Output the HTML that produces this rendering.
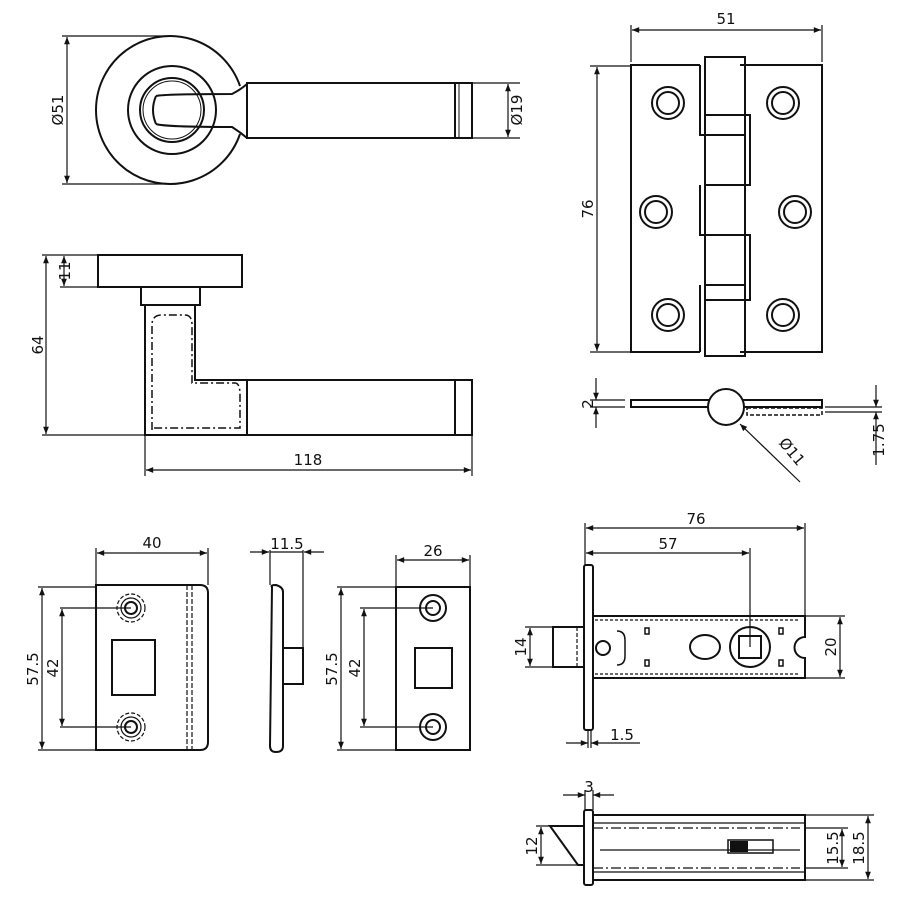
<!DOCTYPE html>
<html><head><style>
html,body{margin:0;padding:0;background:#fff;}
svg{display:block}
text{font-family:"DejaVu Sans","Liberation Sans",sans-serif;font-size:15px;fill:#111;}
</style></head><body>
<svg width="900" height="900" viewBox="0 0 900 900" xmlns="http://www.w3.org/2000/svg">
<defs>
<marker id="a" viewBox="0 0 10 10" refX="10" refY="5" markerWidth="9" markerHeight="6" orient="auto-start-reverse"><path d="M0,1 L10,5 L0,9 z" fill="#111"/></marker>
</defs>
<g stroke="#111" fill="none" stroke-width="2">
<!-- Handle top view -->
<path d="M240,86 A74,74 0 1 0 240,134" />
<circle cx="172" cy="110" r="44"/>
<circle cx="172" cy="110" r="32"/>
<circle cx="172" cy="110" r="29" stroke-width="1"/>
<path d="M156,96 Q165,94 232,94 Q240,90 247,84 M156,124 Q165,127 232,127 Q240,132 247,138"/>
<path d="M156,96 Q150,110 156,124"/>
<rect x="247" y="83" width="208" height="55"/>
<rect x="455" y="83" width="17" height="55"/>
<line x1="459" y1="83" x2="459" y2="138" stroke-width="1"/>
<!-- Handle side view -->
<rect x="98" y="255" width="144" height="32"/>
<rect x="141" y="287" width="59" height="18"/>
<path d="M145,305 V435 H247 M195,305 V380 H247"/>
<path d="M152,430 V325 Q152,315 162,315 H185 Q192,315 192,325 V383 H235 Q240,383 240,395 V428 H152" stroke-dasharray="8,3,2,3" stroke-width="1.5"/>
<rect x="247" y="380" width="208" height="55"/>
<rect x="455" y="380" width="17" height="55"/>
<!-- Hinge -->
<path d="M700,65 H631 V352 H700"/>
<path d="M740,65 H822 V352 H740"/>
<rect x="705" y="57" width="40" height="299"/>
<path d="M700,65 V135 H705 M700,185 V235 H705 M700,285 V352 M745,115 H750 V185 H745 M745,235 H750 V300 H745"/>
<line x1="705" y1="115" x2="745" y2="115"/><line x1="705" y1="135" x2="745" y2="135"/>
<line x1="705" y1="185" x2="745" y2="185"/><line x1="705" y1="235" x2="745" y2="235"/>
<line x1="705" y1="285" x2="745" y2="285"/><line x1="705" y1="300" x2="745" y2="300"/>
<g>
<circle cx="668" cy="103" r="16"/><circle cx="668" cy="103" r="11"/>
<circle cx="656" cy="212" r="16"/><circle cx="656" cy="212" r="11"/>
<circle cx="668" cy="315" r="16"/><circle cx="668" cy="315" r="11"/>
<circle cx="783" cy="103" r="16"/><circle cx="783" cy="103" r="11"/>
<circle cx="795" cy="212" r="16"/><circle cx="795" cy="212" r="11"/>
<circle cx="783" cy="315" r="16"/><circle cx="783" cy="315" r="11"/>
</g>
<!-- hinge side -->
<rect x="631" y="400" width="78" height="7"/>
<rect x="743" y="400" width="79" height="7"/>
<rect x="747" y="408" width="75" height="7" stroke-dasharray="4,2" stroke-width="1.5"/>
<circle cx="726" cy="407" r="18" fill="#fff"/>
<!-- strike plate 1 -->
<path d="M96,585 H200 Q208,585 208,593 V742 Q208,750 200,750 H96 Z"/>
<rect x="112" y="640" width="43" height="55"/>
<path d="M187,585 V750 M192,585 V750" stroke-dasharray="5,2" stroke-width="1.2"/>
<circle cx="131" cy="608" r="6"/><circle cx="131" cy="608" r="10" stroke-width="1.2"/><circle cx="131" cy="608" r="14" stroke-dasharray="4,2" stroke-width="1.2"/>
<circle cx="131" cy="727" r="6"/><circle cx="131" cy="727" r="10" stroke-width="1.2"/><circle cx="131" cy="727" r="14" stroke-dasharray="4,2" stroke-width="1.2"/>
<!-- strike side -->
<path d="M272,587 Q270,585 276,585 Q283,587 283,592 V746 Q283,752 276,752 Q270,752 270,746 Z"/>
<rect x="283" y="648" width="20" height="36"/>
<!-- strike plate 2 -->
<rect x="396" y="587" width="74" height="163"/>
<rect x="415" y="648" width="37" height="40"/>
<circle cx="433" cy="608" r="7"/><circle cx="433" cy="608" r="13"/>
<circle cx="433" cy="727" r="7"/><circle cx="433" cy="727" r="13"/>
<!-- latch front -->
<rect x="584" y="565" width="9" height="165" rx="2"/>
<rect x="553" y="627" width="31" height="40"/>
<line x1="577" y1="627" x2="577" y2="667" stroke-dasharray="4,2" stroke-width="1.2"/>
<path d="M593,616 H805 V637 A10,10 0 0 0 805,658 V678 H593"/>
<path d="M595,620 H800 M595,674 H800" stroke-dasharray="3,2" stroke-width="1.2"/>
<circle cx="750" cy="647" r="20"/><rect x="739" y="636" width="22" height="22"/>
<ellipse cx="705" cy="647" rx="15" ry="12"/>
<circle cx="603" cy="648" r="7"/>
<path d="M617,631 Q625,631 625,640 V656 Q625,665 617,665" stroke-width="1.5"/>
<rect x="645" y="628" width="4" height="6" stroke-width="1.5"/><rect x="645" y="660" width="4" height="6" stroke-width="1.5"/>
<rect x="779" y="628" width="4" height="6" stroke-width="1.5"/><rect x="779" y="660" width="4" height="6" stroke-width="1.5"/>
<!-- latch bottom -->
<rect x="584" y="810" width="9" height="75" rx="2"/>
<path d="M550,826 H584 V865 H578 Z"/>
<rect x="593" y="815" width="212" height="65"/>
<line x1="593" y1="823" x2="805" y2="823" stroke-width="1.2"/>
<line x1="593" y1="872" x2="805" y2="872" stroke-width="1.2"/>
<path d="M593,828 H800 M593,868 H800" stroke-dasharray="10,3,2,3" stroke-width="1.2"/>
<path d="M600,850 H740 V844 H745 V850 H800" stroke-width="1.2"/>
<rect x="728" y="840" width="45" height="13" stroke-width="1.5"/>
<rect x="731" y="842" width="16" height="9" fill="#111"/>
</g>
<!-- dimension lines -->
<g stroke="#111" stroke-width="1.2" fill="none">
<path d="M62,36 H172 M62,184 H172"/>
<line x1="67" y1="37" x2="67" y2="183" marker-start="url(#a)" marker-end="url(#a)"/>
<path d="M472,83 H520 M472,138 H520"/>
<line x1="508" y1="84" x2="508" y2="137" marker-start="url(#a)" marker-end="url(#a)"/>
<path d="M42,255 H98 M60,287 H98 M42,435 H145"/>
<line x1="46" y1="256" x2="46" y2="434" marker-start="url(#a)" marker-end="url(#a)"/>
<line x1="64" y1="256" x2="64" y2="286" marker-start="url(#a)" marker-end="url(#a)"/>
<path d="M145,436 V476 M472,436 V476"/>
<line x1="146" y1="470" x2="471" y2="470" marker-start="url(#a)" marker-end="url(#a)"/>
<path d="M631,25 V62 M822,25 V62"/>
<line x1="632" y1="30" x2="821" y2="30" marker-start="url(#a)" marker-end="url(#a)"/>
<path d="M590,66 H631 M590,352 H631"/>
<line x1="597" y1="67" x2="597" y2="351" marker-start="url(#a)" marker-end="url(#a)"/>
<path d="M590,400 H625 M590,407 H625"/>
<line x1="596" y1="378" x2="596" y2="400" marker-end="url(#a)"/>
<line x1="596" y1="428" x2="596" y2="407" marker-end="url(#a)"/>
<path d="M825,407 H882 M825,412 H882"/>
<line x1="876" y1="385" x2="876" y2="407" marker-end="url(#a)"/>
<line x1="876" y1="465" x2="876" y2="412" marker-end="url(#a)"/>
<line x1="800" y1="482" x2="740" y2="424" marker-end="url(#a)"/>
<path d="M96,548 V585 M208,548 V585"/>
<line x1="97" y1="553" x2="207" y2="553" marker-start="url(#a)" marker-end="url(#a)"/>
<path d="M38,587 H96 M38,750 H96 M60,608 H131 M60,727 H131"/>
<line x1="42" y1="588" x2="42" y2="749" marker-start="url(#a)" marker-end="url(#a)"/>
<line x1="62" y1="609" x2="62" y2="726" marker-start="url(#a)" marker-end="url(#a)"/>
<path d="M270,550 V585 M303,550 V648"/>
<line x1="250" y1="552" x2="269" y2="552" marker-end="url(#a)"/>
<line x1="324" y1="552" x2="304" y2="552" marker-end="url(#a)"/>
<line x1="270" y1="552" x2="303" y2="552"/>
<path d="M396,555 V587 M470,555 V587"/>
<line x1="397" y1="560" x2="469" y2="560" marker-start="url(#a)" marker-end="url(#a)"/>
<path d="M337,587 H396 M337,750 H396 M360,608 H433 M360,727 H433"/>
<line x1="341" y1="588" x2="341" y2="749" marker-start="url(#a)" marker-end="url(#a)"/>
<line x1="364" y1="609" x2="364" y2="726" marker-start="url(#a)" marker-end="url(#a)"/>
<path d="M585,523 V565 M805,523 V616 M750,548 V647"/>
<line x1="586" y1="528" x2="804" y2="528" marker-start="url(#a)" marker-end="url(#a)"/>
<line x1="586" y1="553" x2="749" y2="553" marker-start="url(#a)" marker-end="url(#a)"/>
<path d="M805,616 H845 M805,678 H845"/>
<line x1="840" y1="617" x2="840" y2="677" marker-start="url(#a)" marker-end="url(#a)"/>
<path d="M525,627 H553 M525,667 H553"/>
<line x1="530" y1="628" x2="530" y2="666" marker-start="url(#a)" marker-end="url(#a)"/>
<path d="M588,730 V748 M591,730 V748"/>
<line x1="566" y1="743" x2="588" y2="743" marker-end="url(#a)"/>
<line x1="640" y1="743" x2="591" y2="743" marker-end="url(#a)"/>
<path d="M585,790 V810 M593,790 V810"/>
<line x1="563" y1="795" x2="585" y2="795" marker-end="url(#a)"/>
<line x1="614" y1="795" x2="593" y2="795" marker-end="url(#a)"/>
<path d="M536,826 H550 M536,865 H578"/>
<line x1="541" y1="827" x2="541" y2="864" marker-start="url(#a)" marker-end="url(#a)"/>
<path d="M805,828 H848 M805,868 H848 M805,815 H874 M805,880 H874"/>
<line x1="842" y1="829" x2="842" y2="867" marker-start="url(#a)" marker-end="url(#a)"/>
<line x1="868" y1="816" x2="868" y2="879" marker-start="url(#a)" marker-end="url(#a)"/>
</g>
<g>
<text transform="translate(63,110) rotate(-90)" text-anchor="middle">Ø51</text>
<text transform="translate(522,110) rotate(-90)" text-anchor="middle">Ø19</text>
<text transform="translate(70,271) rotate(-90)" text-anchor="middle" font-size="12">11</text>
<text transform="translate(43,345) rotate(-90)" text-anchor="middle">64</text>
<text x="308" y="465" text-anchor="middle">118</text>
<text x="726" y="24" text-anchor="middle">51</text>
<text transform="translate(593,209) rotate(-90)" text-anchor="middle">76</text>
<text transform="translate(593,404) rotate(-90)" text-anchor="middle">2</text>
<text transform="translate(884,440) rotate(-90)" text-anchor="middle">1.75</text>
<text transform="translate(788,455) rotate(50)" text-anchor="middle">Ø11</text>
<text x="152" y="548" text-anchor="middle">40</text>
<text transform="translate(38,669) rotate(-90)" text-anchor="middle">57.5</text>
<text transform="translate(58,668) rotate(-90)" text-anchor="middle">42</text>
<text x="287" y="549" text-anchor="middle">11.5</text>
<text x="433" y="556" text-anchor="middle">26</text>
<text transform="translate(337,669) rotate(-90)" text-anchor="middle">57.5</text>
<text transform="translate(360,668) rotate(-90)" text-anchor="middle">42</text>
<text x="696" y="524" text-anchor="middle">76</text>
<text x="668" y="549" text-anchor="middle">57</text>
<text transform="translate(836,647) rotate(-90)" text-anchor="middle">20</text>
<text transform="translate(526,647) rotate(-90)" text-anchor="middle">14</text>
<text x="622" y="740" text-anchor="middle">1.5</text>
<text x="589" y="792" text-anchor="middle" font-size="13">3</text>
<text transform="translate(537,846) rotate(-90)" text-anchor="middle" font-size="13">12</text>
<text transform="translate(838,848) rotate(-90)" text-anchor="middle">15.5</text>
<text transform="translate(864,848) rotate(-90)" text-anchor="middle">18.5</text>
</g>
</svg>
</body></html>
